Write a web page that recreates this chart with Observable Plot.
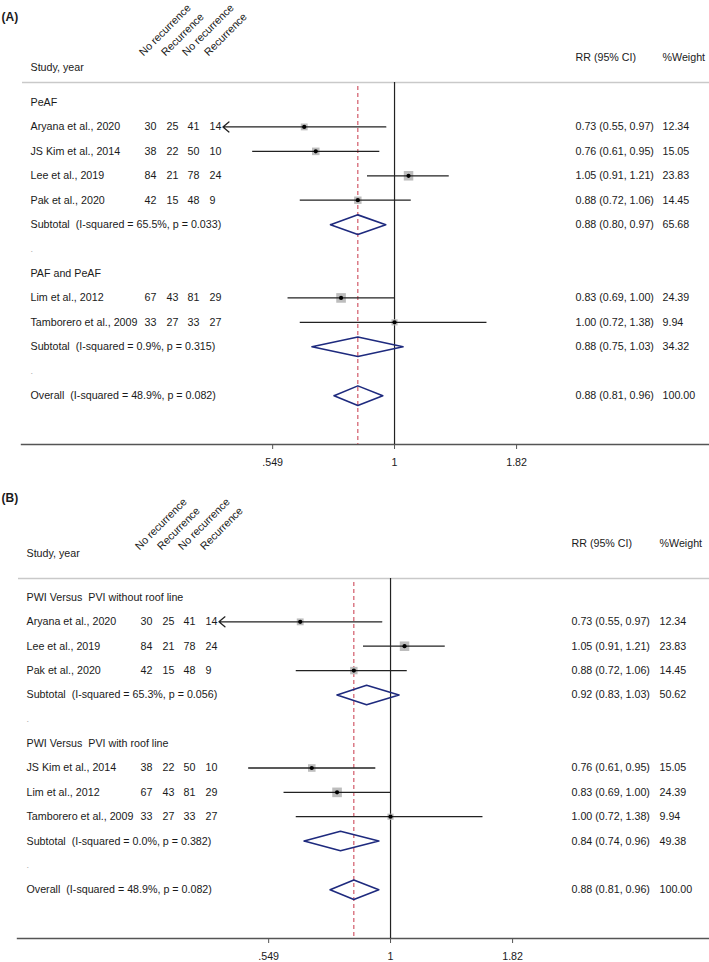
<!DOCTYPE html>
<html>
<head>
<meta charset="utf-8">
<script src="https://cdn.jsdelivr.net/npm/d3@7"></script>
<script src="https://cdn.jsdelivr.net/npm/@observablehq/plot@0.6"></script>
<style>
  body { margin: 0; background: #fff; }
  svg { display: block; }
</style>
</head>
<body>
<div id="chart"></div>
<script>
// ---------- shared ----------
const colHeaders = ["No recurrence", "Recurrence", "No recurrence", "Recurrence"];
const xTickPositions = [0.654, 1, 1.53];
const xTickLabels = [".549", "1", "1.82"];
const xLowerLimit = 0.55;
const kinds = ["group","study","study","study","study","sub","blank","group","study","study","sub","blank","overall"];

// ---------- Panel A ----------
const labelsA = ["PeAF", "Aryana et al., 2020", "JS Kim et al., 2014", "Lee et al., 2019", "Pak et al., 2020",
  "Subtotal  (I-squared = 65.5%, p = 0.033)", ".", "PAF and PeAF", "Lim et al., 2012", "Tamborero et al., 2009",
  "Subtotal  (I-squared = 0.9%, p = 0.315)", ".", "Overall  (I-squared = 48.9%, p = 0.082)"];
const noRec1A = [null, 30, 38, 84, 42, null, null, null, 67, 33, null, null, null];
const rec1A   = [null, 25, 22, 21, 15, null, null, null, 43, 27, null, null, null];
const noRec2A = [null, 41, 50, 78, 48, null, null, null, 81, 33, null, null, null];
const rec2A   = [null, 14, 10, 24,  9, null, null, null, 29, 27, null, null, null];
const rrA     = [null, 0.73, 0.76, 1.05, 0.88, 0.88, null, null, 0.83, 1.00, 0.88, null, 0.88];
const loA     = [null, 0.55, 0.61, 0.91, 0.72, 0.80, null, null, 0.69, 0.72, 0.75, null, 0.81];
const hiA     = [null, 0.97, 0.95, 1.21, 1.06, 0.97, null, null, 1.00, 1.38, 1.03, null, 0.96];
const weightA = [null, 12.34, 15.05, 23.83, 14.45, 65.68, null, null, 24.39, 9.94, 34.32, null, 100.00];

// ---------- Panel B ----------
const labelsB = ["PWI Versus  PVI without roof line", "Aryana et al., 2020", "Lee et al., 2019", "Pak et al., 2020",
  "Subtotal  (I-squared = 65.3%, p = 0.056)", ".", "PWI Versus  PVI with roof line", "JS Kim et al., 2014",
  "Lim et al., 2012", "Tamborero et al., 2009", "Subtotal  (I-squared = 0.0%, p = 0.382)", ".",
  "Overall  (I-squared = 48.9%, p = 0.082)"];
const kindsB = ["group","study","study","study","sub","blank","group","study","study","study","sub","blank","overall"];
const noRec1B = [null, 30, 84, 42, null, null, null, 38, 67, 33, null, null, null];
const rec1B   = [null, 25, 21, 15, null, null, null, 22, 43, 27, null, null, null];
const noRec2B = [null, 41, 78, 48, null, null, null, 50, 81, 33, null, null, null];
const rec2B   = [null, 14, 24,  9, null, null, null, 10, 29, 27, null, null, null];
const rrB     = [null, 0.73, 1.05, 0.88, 0.92, null, null, 0.76, 0.83, 1.00, 0.84, null, 0.88];
const loB     = [null, 0.55, 0.91, 0.72, 0.83, null, null, 0.61, 0.69, 0.72, 0.74, null, 0.81];
const hiB     = [null, 0.97, 1.21, 1.06, 1.03, null, null, 0.95, 1.00, 1.38, 0.96, null, 0.96];
const weightB = [null, 12.34, 23.83, 14.45, 50.62, null, null, 15.05, 24.39, 9.94, 49.38, null, 100.00];

const FONT = "'Liberation Sans', Arial, Helvetica, sans-serif";
const INK = "#1a1a1a";
const FS = 10.7;
const fmt = v => v.toFixed(2);

function panel(o) {
  const rows = o.labels.map((label, i) => ({
    row: i, label, kind: o.kinds[i], rr: o.rr[i], lo: o.lo[i], hi: o.hi[i], w: o.weight[i],
    counts: o.counts.map(c => c[i])
  }));
  const studies = rows.filter(d => d.kind === "study");
  const pooled = rows.filter(d => d.kind === "sub" || d.kind === "overall");
  const overall = rows.find(d => d.kind === "overall");
  const textRows = rows.filter(d => d.kind !== "blank");
  const blankRows = rows.filter(d => d.kind === "blank");
  const withCI = rows.filter(d => d.rr != null);
  const clipped = studies.filter(d => d.lo <= xLowerLimit);
  const full = studies.filter(d => d.lo > xLowerLimit);
  const dh = 0.4;
  const diamonds = pooled.flatMap(d => [
    {id: d.row, x: d.lo, y: d.row},
    {id: d.row, x: d.rr, y: d.row - dh},
    {id: d.row, x: d.hi, y: d.row},
    {id: d.row, x: d.rr, y: d.row + dh},
    {id: d.row, x: d.lo, y: d.row}
  ]);
  const txt = {fontSize: FS, fill: INK, textAnchor: "start", frameAnchor: "left"};

  const marks = [
    // header texts
    Plot.text([o.tag], {frameAnchor: "top-left", dx: 1, dy: o.tagY, fontWeight: "bold", fontSize: 12, fill: INK, textAnchor: "start"}),
    Plot.text(["Study, year"], {frameAnchor: "top-left", dx: o.labelX, dy: o.studyHeadY, fontSize: FS, fill: INK, textAnchor: "start"}),
    Plot.text(["RR (95% CI)"], {frameAnchor: "top-left", dx: o.rrX, dy: o.rrHeadY, fontSize: FS, fill: INK, textAnchor: "start"}),
    Plot.text(["%Weight"], {frameAnchor: "top-left", dx: o.wX, dy: o.rrHeadY, fontSize: FS, fill: INK, textAnchor: "start"}),
    ...colHeaders.map((h, k) => Plot.text([h], {
      frameAnchor: "top-left", dx: o.countX[k] - 1, dy: o.rotY, rotate: -45,
      textAnchor: "start", lineAnchor: "bottom", fontSize: FS, fill: INK
    })),
    // header separator
    Plot.ruleY([0], {dy: o.headLineDy, insetLeft: o.headLineLeft, stroke: "#c9c9c9", strokeWidth: 1.3}),
    // axis line
    Plot.frame({anchor: "bottom", insetLeft: o.axisLeft, stroke: "#555", strokeWidth: 1.4}),
    // reference lines
    Plot.ruleX([1], {insetTop: o.vTop, stroke: "#222", strokeWidth: 1.2}),
    Plot.ruleX([overall.rr], {insetTop: o.vTop + 4, stroke: "#c8374a", strokeWidth: 1, strokeDasharray: "4,3"}),
    // study boxes
    Plot.dot(studies, {x: "rr", y: "row", r: "w", symbol: "square", fill: "#bdbdbd", stroke: "none"}),
    // CIs
    Plot.ruleY(full, {y: "row", x1: "lo", x2: "hi", stroke: "#222", strokeWidth: 1.3}),
    Plot.arrow(clipped, {x1: "hi", x2: "lo", y1: "row", y2: "row", stroke: "#222", strokeWidth: 1.3, headLength: 9, headAngle: 80}),
    Plot.dot(studies, {x: "rr", y: "row", r: 2.1, fill: "#000", stroke: "none"}),
    // pooled diamonds
    Plot.line(diamonds, {x: "x", y: "y", z: "id", stroke: "#1e2a7e", strokeWidth: 1.6, curve: "linear"}),
    // left labels
    Plot.text(textRows, {...txt, y: "row", text: "label", dx: o.labelX}),
    Plot.text(blankRows, {...txt, y: "row", text: "label", dx: o.labelX, fill: "#aaa", fontSize: 9}),
    ...o.countX.map((cx, k) => Plot.text(studies, {...txt, y: "row", text: d => String(d.counts[k]), dx: cx})),
    // right columns
    Plot.text(withCI, {...txt, y: "row", text: d => `${fmt(d.rr)} (${fmt(d.lo)}, ${fmt(d.hi)})`, dx: o.rrX}),
    Plot.text(withCI, {...txt, y: "row", text: d => fmt(d.w), dx: o.wX}),
    // axis
    Plot.axisX({
      ticks: xTickPositions,
      tickFormat: d => xTickLabels[xTickPositions.indexOf(d)],
      tickSize: 5, tickPadding: 9, fontSize: FS, label: null, stroke: "#555", fill: INK
    })
  ];

  return Plot.plot({
    width: 709,
    height: o.height,
    marginTop: 0, marginLeft: 0, marginRight: 0, marginBottom: o.marginBottom,
    style: {fontFamily: FONT, fontSize: FS + "px", color: INK, background: "#fff", overflow: "visible"},
    x: {type: "log", domain: [0.2726, 2.986], range: o.xRange, label: null},
    y: {domain: [0, 14], range: o.yRange, axis: null},
    r: {type: "sqrt", domain: [0, 100], range: [0, 11]},
    marks
  });
}

const root = document.getElementById("chart");
root.appendChild(panel({
  tag: "(A)", labels: labelsA, kinds,
  counts: [noRec1A, rec1A, noRec2A, rec2A],
  rr: rrA, lo: loA, hi: hiA, weight: weightA,
  height: 480, marginBottom: 36,
  xRange: [21, 708], yRange: [102, 444],
  tagY: 12, studyHeadY: 63, rrHeadY: 53, rotY: 56,
  labelX: 30, countX: [144, 166, 187, 209], rrX: 575, wX: 662,
  headLineDy: -20, headLineLeft: 22, axisLeft: 21, vTop: 82
}));
root.appendChild(panel({
  tag: "(B)", labels: labelsB, kinds: kindsB,
  counts: [noRec1B, rec1B, noRec2B, rec2B],
  rr: rrB, lo: loB, hi: hiB, weight: weightB,
  height: 482, marginBottom: 24,
  xRange: [17, 704], yRange: [117, 458],
  tagY: 13, studyHeadY: 69, rrHeadY: 59, rotY: 70,
  labelX: 26, countX: [140, 162, 183, 205], rrX: 571, wX: 659,
  headLineDy: -19, headLineLeft: 18, axisLeft: 17, vTop: 98
}));
</script>
</body>
</html>
